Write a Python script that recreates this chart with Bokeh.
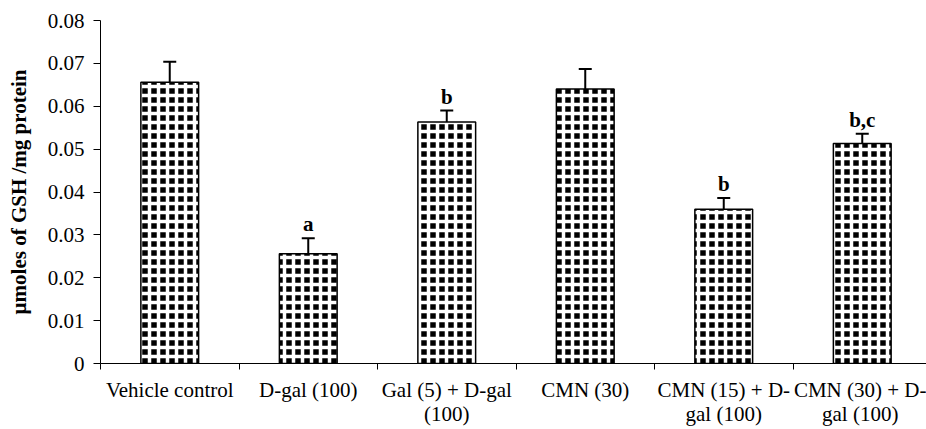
from bokeh.plotting import figure
from bokeh.models import (Range1d, FixedTicker, CustomJSTickFormatter, ColumnDataSource,
                          Whisker, TeeHead, LabelSet)
from bokeh.embed import file_html
from bokeh.resources import INLINE

# ---- data ----
groups = ["Vehicle control", "D-gal (100)", "Gal (5) + D-gal\n(100)", "CMN (30)",
          "CMN (15) + D-\ngal (100)", "CMN (30) + D-\ngal (100)"]
means = [0.0656, 0.0256, 0.0563, 0.0640, 0.0360, 0.0513]
errors = [0.0048, 0.0036, 0.0027, 0.0047, 0.0026, 0.0023]
letters = ["", "a", "b", "", "b", "b,c"]
y_ticks = [0, 0.01, 0.02, 0.03, 0.04, 0.05, 0.06, 0.07, 0.08]
y_label = "\u00b5moles of GSH /mg protein"

FONT = "Liberation Serif"
FS = "21px"

xs = list(range(len(groups)))
upper = [m + e for m, e in zip(means, errors)]
src = ColumnDataSource(dict(x=xs, mean=means, upper=upper, letter=letters))

W, H = 926, 429
left_border = 100
cat_px = 138.5
frame_w = W - left_border
p = figure(width=W, height=H, output_backend="svg", toolbar_location=None,
           x_range=Range1d(-0.5, -0.5 + frame_w / cat_px),
           y_range=Range1d(y_ticks[0], y_ticks[-1]),
           min_border_left=left_border, min_border_right=0,
           min_border_top=20, min_border_bottom=62)

p.vbar(x="x", top="mean", bottom=0, width=0.417, source=src,
       fill_color="black", hatch_pattern="cross", hatch_color="white",
       hatch_scale=9, hatch_weight=3.5, line_color="black", line_width=1.5)

w = Whisker(base="x", lower="mean", upper="upper", source=src,
            line_color="black", line_width=2,
            upper_head=TeeHead(size=13, line_width=2, line_color="black"),
            lower_head=None)
p.add_layout(w)

labels = LabelSet(x="x", y="upper", text="letter", source=src,
                  text_align="center", text_baseline="alphabetic", y_offset=7,
                  text_font=FONT, text_font_style="bold", text_font_size=FS,
                  text_color="black")
p.add_layout(labels)

# y axis
ya = p.yaxis[0]
ya.ticker = FixedTicker(ticks=y_ticks)
ya.formatter = CustomJSTickFormatter(code="return tick == 0 ? '0' : tick.toFixed(2);")
ya.major_tick_out = 7
ya.major_tick_in = 0
ya.minor_tick_out = 0
ya.minor_tick_in = 0
ya.major_label_standoff = 9
ya.major_label_text_font = FONT
ya.major_label_text_font_size = FS
ya.major_label_text_color = "black"
ya.axis_label = y_label
ya.axis_label_text_font = FONT
ya.axis_label_text_font_size = FS
ya.axis_label_text_font_style = "bold"
ya.axis_label_text_color = "black"
ya.axis_label_standoff = 14
ya.axis_line_color = "black"
ya.major_tick_line_color = "black"

# x axis: labels at category centres, tick marks at category boundaries
xa = p.xaxis[0]
xa.ticker = FixedTicker(ticks=xs, minor_ticks=[i - 0.5 for i in range(len(groups) + 1)])
xa.formatter = CustomJSTickFormatter(args=dict(labels=groups),
                                     code="return labels[Math.round(tick)] || '';")
xa.major_tick_out = 0
xa.major_tick_in = 0
xa.minor_tick_out = 6
xa.minor_tick_in = 0
xa.minor_tick_line_color = "black"
xa.major_label_standoff = 8
xa.major_label_text_font = FONT
xa.major_label_text_font_size = FS
xa.major_label_text_color = "black"
xa.major_label_text_line_height = 1.03
xa.axis_line_color = "black"

p.xgrid.visible = False
p.ygrid.visible = False
p.outline_line_color = None
p.background_fill_color = "white"
p.border_fill_color = "white"

open("out.html", "w").write(file_html(p, INLINE))
